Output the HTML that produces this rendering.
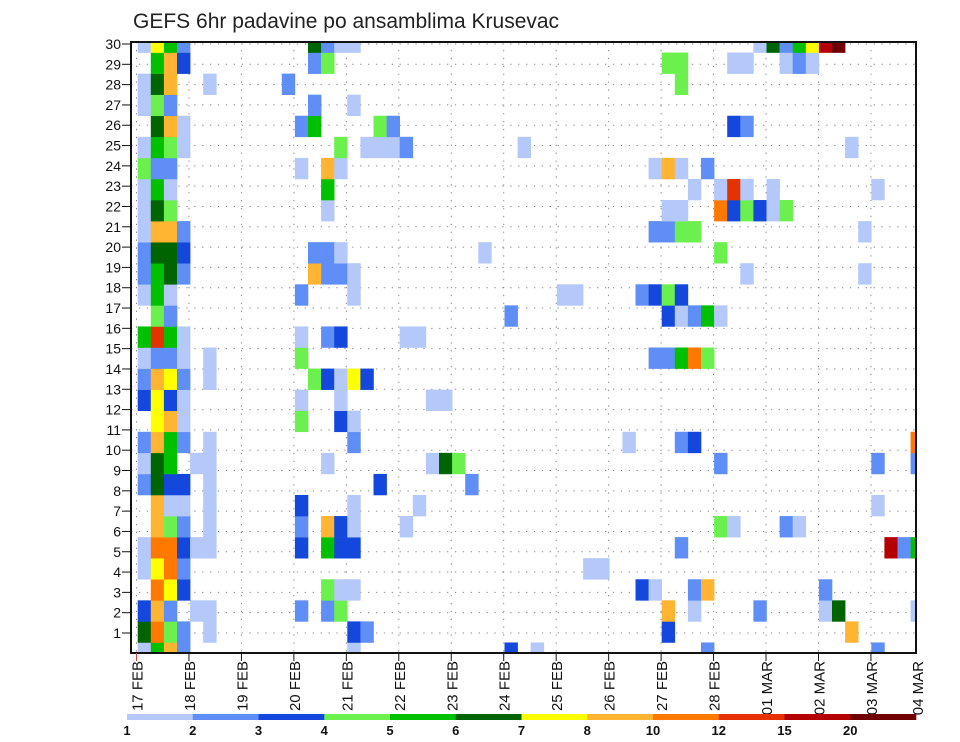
<!DOCTYPE html>
<html><head><meta charset="utf-8"><title>GEFS 6hr padavine po ansamblima Krusevac</title>
<style>
html,body{margin:0;padding:0;background:#fff;}
svg{display:block;font-family:"Liberation Sans",sans-serif;}
</style></head>
<body>
<svg id="chart" width="960" height="742" viewBox="0 0 960 742" xmlns="http://www.w3.org/2000/svg">
<text x="133" y="28" font-size="21" fill="#222">GEFS 6hr padavine po ansamblima Krusevac</text>
<defs><clipPath id="plotclip"><rect x="131" y="42" width="785" height="611"/></clipPath></defs>
<g id="grid"></g>
<g id="cells" clip-path="url(#plotclip)"></g>
<rect x="131" y="42" width="785" height="611" fill="none" stroke="#111" stroke-width="2"/>
<g id="yaxis"></g>
<g id="xaxis"></g>
<g id="legend"></g>
</svg>
<script>
const levels = [1,2,3,4,5,6,7,8,10,12,15,20];
const levelColors = ['#b4c8fa','#5f8ef7','#1448dc','#6cf04e','#00c000','#006400','#ffff00','#ffb432','#ff7800','#e63200','#b40000','#700000'];
const dayLabels = ['17 FEB','18 FEB','19 FEB','20 FEB','21 FEB','22 FEB','23 FEB','24 FEB','25 FEB','26 FEB','27 FEB','28 FEB','01 MAR','02 MAR','03 MAR','04 MAR'];
const memberTicks = [1,2,3,4,5,6,7,8,9,10,11,12,13,14,15,16,17,18,19,20,21,22,23,24,25,26,27,28,29,30];
// each ensemble member: [time step index (6h), precipitation mm]
const ens30 = [[0,1.5],[1,7.5],[2,5.5],[3,2.5],[13,6.5],[14,2.5],[15,1.5],[16,1.5],[47,1.5],[48,6.5],[49,2.5],[50,5.5],[51,7.5],[52,17],[53,25]];
const ens29 = [[1,5.5],[2,9],[3,3.5],[13,2.5],[14,4.5],[40,4.5],[41,4.5],[45,1.5],[46,1.5],[49,1.5],[50,2.5],[51,1.5]];
const ens28 = [[0,1.5],[1,6.5],[2,9],[5,1.5],[11,2.5],[41,4.5]];
const ens27 = [[0,1.5],[1,4.5],[2,2.5],[13,2.5],[16,1.5]];
const ens26 = [[1,6.5],[2,9],[3,1.5],[12,2.5],[13,5.5],[18,4.5],[19,2.5],[45,3.5],[46,2.5]];
const ens25 = [[0,1.5],[1,5.5],[2,4.5],[3,1.5],[15,4.5],[17,1.5],[18,1.5],[19,1.5],[20,2.5],[29,1.5],[54,1.5]];
const ens24 = [[0,4.5],[1,2.5],[2,2.5],[12,1.5],[14,9],[15,1.5],[39,1.5],[40,9],[41,1.5],[43,2.5]];
const ens23 = [[0,1.5],[1,5.5],[2,1.5],[14,5.5],[42,1.5],[44,1.5],[45,13.5],[46,1.5],[48,1.5],[56,1.5]];
const ens22 = [[0,1.5],[1,6.5],[2,4.5],[14,1.5],[40,1.5],[41,1.5],[44,11],[45,3.5],[46,4.5],[47,3.5],[48,1.5],[49,4.5]];
const ens21 = [[0,1.5],[1,9],[2,9],[3,2.5],[39,2.5],[40,2.5],[41,4.5],[42,4.5],[55,1.5]];
const ens20 = [[0,2.5],[1,6.5],[2,6.5],[3,3.5],[13,2.5],[14,2.5],[15,1.5],[26,1.5],[44,4.5]];
const ens19 = [[0,2.5],[1,5.5],[2,6.5],[3,2.5],[13,9],[14,2.5],[15,2.5],[16,1.5],[46,1.5],[55,1.5]];
const ens18 = [[0,1.5],[1,5.5],[2,1.5],[12,2.5],[16,1.5],[32,1.5],[33,1.5],[38,2.5],[39,3.5],[40,4.5],[41,3.5]];
const ens17 = [[1,4.5],[2,2.5],[28,2.5],[40,3.5],[41,1.5],[42,2.5],[43,5.5],[44,1.5]];
const ens16 = [[0,5.5],[1,13.5],[2,5.5],[3,1.5],[12,1.5],[14,2.5],[15,3.5],[20,1.5],[21,1.5]];
const ens15 = [[0,1.5],[1,2.5],[2,2.5],[3,1.5],[5,1.5],[12,4.5],[39,2.5],[40,2.5],[41,5.5],[42,11],[43,4.5]];
const ens14 = [[0,2.5],[1,9],[2,7.5],[3,2.5],[5,1.5],[13,4.5],[14,3.5],[15,1.5],[16,7.5],[17,3.5]];
const ens13 = [[0,3.5],[1,7.5],[2,3.5],[3,1.5],[12,1.5],[15,1.5],[22,1.5],[23,1.5]];
const ens12 = [[1,7.5],[2,9],[3,1.5],[12,4.5],[15,3.5],[16,1.5]];
const ens11 = [[0,2.5],[1,9],[2,5.5],[3,2.5],[5,1.5],[16,2.5],[37,1.5],[41,2.5],[42,3.5],[59,11]];
const ens10 = [[0,1.5],[1,6.5],[2,5.5],[4,1.5],[5,1.5],[14,1.5],[22,1.5],[23,6.5],[24,4.5],[44,2.5],[56,2.5],[59,2.5]];
const ens09 = [[0,2.5],[1,6.5],[2,3.5],[3,3.5],[5,1.5],[18,3.5],[25,2.5]];
const ens08 = [[1,9],[2,1.5],[3,1.5],[5,1.5],[12,3.5],[16,1.5],[21,1.5],[56,1.5]];
const ens07 = [[1,9],[2,4.5],[3,2.5],[5,1.5],[12,2.5],[14,9],[15,3.5],[16,1.5],[20,1.5],[44,4.5],[45,1.5],[49,2.5],[50,1.5]];
const ens06 = [[0,1.5],[1,11],[2,11],[3,3.5],[4,1.5],[5,1.5],[12,3.5],[14,5.5],[15,3.5],[16,3.5],[41,2.5],[57,17],[58,2.5],[59,5.5]];
const ens05 = [[0,1.5],[1,7.5],[2,11],[3,2.5],[34,1.5],[35,1.5]];
const ens04 = [[1,11],[2,7.5],[3,3.5],[14,4.5],[15,1.5],[16,1.5],[38,3.5],[39,1.5],[42,2.5],[43,9],[52,2.5]];
const ens03 = [[0,3.5],[1,9],[2,2.5],[4,1.5],[5,1.5],[12,2.5],[14,2.5],[15,4.5],[40,9],[42,1.5],[47,2.5],[52,1.5],[53,6.5],[59,1.5]];
const ens02 = [[0,6.5],[1,11],[2,4.5],[3,2.5],[5,1.5],[16,3.5],[17,2.5],[40,3.5],[54,9]];
const ens01 = [[0,1.5],[1,5.5],[2,9],[3,2.5],[16,1.5],[28,3.5],[30,1.5],[43,2.5],[56,2.5]];
const members = [ens01,ens02,ens03,ens04,ens05,ens06,ens07,ens08,ens09,ens10,ens11,ens12,ens13,ens14,ens15,ens16,ens17,ens18,ens19,ens20,ens21,ens22,ens23,ens24,ens25,ens26,ens27,ens28,ens29,ens30];

const NS = 'http://www.w3.org/2000/svg';
const PL = 131, PR = 916, PT = 42, PB = 653;
const stepW = 13.1, x0 = 137.7;
const rowH = (PB - PT) / 29;
function xCell(k){ return x0 + stepW * k; }
function yCellCenter(m){ return PT + (30 - m) * rowH; }   // member 30 at top
function yTick(v){ return 44 + (30 - v) * 20.31; }
function xDay(d){ return 136.5 + 52.46 * d; }
function colorFor(v){ let c = null; for (let i = 0; i < levels.length; i++) if (v >= levels[i]) c = levelColors[i]; return c; }
function mk(tag, attrs, parent){ const e = document.createElementNS(NS, tag); for (const a in attrs) e.setAttribute(a, attrs[a]); parent.appendChild(e); return e; }

const grid = document.getElementById('grid');
const cells = document.getElementById('cells');
const yaxis = document.getElementById('yaxis');
const xaxis = document.getElementById('xaxis');
const legend = document.getElementById('legend');

// horizontal dotted grid + y ticks/labels
memberTicks.forEach(v => {
  const y = yTick(v);
  const gl = mk('line', {x1: PL, x2: PR, y1: y, y2: y, stroke: '#888', 'stroke-width': 1, 'stroke-dasharray': '1.3,6.6'}, grid);
  
  
  const tk = mk('line', {x1: PL - 9, x2: PL, y1: y, y2: y, stroke: '#111', 'stroke-width': 1}, yaxis);
  
  
  const t = mk('text', {x: PL - 10, y: y + 5, 'text-anchor': 'end', 'font-size': 14, fill: '#111'}, yaxis);
  
  
  t.textContent = v;
});
// vertical dotted grid + x ticks/labels
dayLabels.forEach((lab, d) => {
  const x = xDay(d);
  if (x < PR - 2) {
    const gl = mk('line', {x1: x, x2: x, y1: PT, y2: PB, stroke: '#888', 'stroke-width': 1, 'stroke-dasharray': '1.3,6.6'}, grid);
    
    
    const tk = mk('line', {x1: x, x2: x, y1: PB, y2: PB + 8, stroke: d === 0 ? '#c44' : '#111', 'stroke-width': 1}, xaxis);
    
    
  }
  const lx = Math.min(x, PR + 1);
  const t = mk('text', {x: 0, y: 0, 'text-anchor': 'end', 'font-size': 15, fill: '#111', transform: 'translate(' + (lx + 6) + ',661) rotate(-90)'}, xaxis);
  
  
  t.textContent = lab;
});
// heatmap cells
members.forEach((arr, idx) => {
  const m = idx + 1;
  const yc = yCellCenter(m);
  arr.forEach(p => {
    const col = colorFor(p[1]);
    if (!col) return;
    const r = mk('rect', {x: xCell(p[0]), y: yc - rowH / 2, width: stepW + 0.3, height: rowH + 0.3, fill: col}, cells);
    
    
  });
});
// colour legend
const lx0 = 127, lx1 = 916, segW = (lx1 - lx0) / levels.length;
levels.forEach((lv, i) => {
  const r = mk('rect', {x: lx0 + i * segW, y: 714, width: segW + 0.3, height: 6, fill: levelColors[i]}, legend);
  
  
  const t = mk('text', {x: lx0 + i * segW, y: 735, 'text-anchor': 'middle', 'font-size': 13, 'font-weight': 'bold', fill: '#111'}, legend);
  
  
  t.textContent = lv;
});
</script>
</body></html>
